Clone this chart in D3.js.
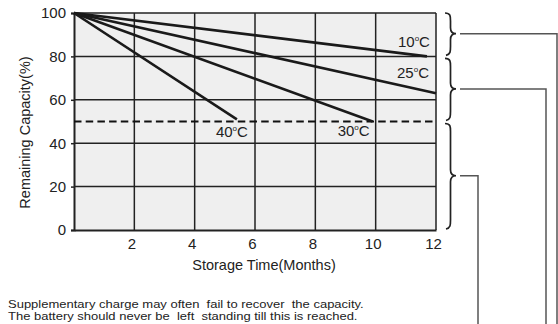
<!DOCTYPE html>
<html>
<head>
<meta charset="utf-8">
<script src="https://cdn.jsdelivr.net/npm/d3@7"></script>
<style>
  body { margin: 0; background: #fff; }
  svg { display: block; font-family: "Liberation Sans", Arial, sans-serif; }
</style>
</head>
<body>
<div id="chart"></div>
<script>
var width = 558;
var height = 324;

// data
var monthTicks = [2, 4, 6, 8, 10, 12];
var capTicks = [0, 20, 40, 60, 80, 100];
var temps = ["10", "25", "30", "40"];
var startMonth = [0, 0, 0, 0];
var startCap = [100, 100, 100, 100];
var endMonth = [11.7, 12, 9.9, 5.4];
var endCap = [80, 63, 50, 51];
var limitCap = 50;
var bands = [[100, 80], [80, 50], [50, 0]];
var notes = [
    "Supplementary charge may often  fail to recover  the capacity.",
    "The battery should never be  left  standing till this is reached."
];

var xScale = d3.scaleLinear().domain([0, 12]).range([74, 436]);
var yScale = d3.scaleLinear().domain([0, 100]).range([230, 13]);

var svg = d3.select("#chart")
    .append("svg")
    .attr("width", width)
    .attr("height", height);

// plot background
svg.append("rect")
    .attr("x", xScale(0))
    .attr("y", yScale(100))
    .attr("width", xScale(12) - xScale(0))
    .attr("height", yScale(0) - yScale(100))
    .attr("fill", "#efefef");

// grid
svg.append("g")
    .selectAll("line")
    .data(monthTicks)
    .enter()
    .append("line")
    .attr("x1", function(d) { return xScale(d); })
    .attr("x2", function(d) { return xScale(d); })
    .attr("y1", yScale(0))
    .attr("y2", yScale(100))
    .attr("stroke", "#222")
    .attr("stroke-width", 1.5);

svg.append("g")
    .selectAll("line")
    .data(capTicks.filter(function(d) { return d > 0; }))
    .enter()
    .append("line")
    .attr("x1", xScale(0))
    .attr("x2", xScale(12))
    .attr("y1", function(d) { return yScale(d); })
    .attr("y2", function(d) { return yScale(d); })
    .attr("stroke", "#222")
    .attr("stroke-width", 1.5);

// axes
var xAxis = d3.axisBottom(xScale).tickValues(monthTicks).tickSize(0).tickPadding(8);
var yAxis = d3.axisLeft(yScale).tickValues(capTicks).tickSize(3).tickPadding(5);

var gx = svg.append("g")
    .attr("transform", "translate(0," + yScale(0) + ")")
    .call(xAxis);
var gy = svg.append("g")
    .attr("transform", "translate(" + xScale(0) + ",0)")
    .call(yAxis);

[gx, gy].forEach(function(g) {
    g.select(".domain").attr("stroke", "#222").attr("stroke-width", 2);
    g.selectAll(".tick line").attr("stroke", "#222").attr("stroke-width", 1.5);
    g.selectAll(".tick text")
        .attr("fill", "#222")
        .style("font-size", "15px")
        .style("font-family", "Liberation Sans, Arial, sans-serif");
});
gx.selectAll(".tick text").attr("dx", -3);

// 50% limit line
svg.append("line")
    .attr("x1", xScale(0))
    .attr("x2", xScale(12))
    .attr("y1", yScale(limitCap))
    .attr("y2", yScale(limitCap))
    .attr("stroke", "#111")
    .attr("stroke-width", 2)
    .attr("stroke-dasharray", "7.5,4.2");

// capacity lines
var line = d3.line()
    .x(function(d) { return xScale(d[0]); })
    .y(function(d) { return yScale(d[1]); });

temps.forEach(function(t, i) {
    svg.append("path")
        .attr("d", line([[startMonth[i], startCap[i]], [endMonth[i], endCap[i]]]))
        .attr("fill", "none")
        .attr("stroke", "#1a1a1a")
        .attr("stroke-width", 2.6);
});

// temperature labels, offset from line ends
var labelDx = [3, -7, -3, 11];
var labelDy = [-9, -15, 14, 18];
temps.forEach(function(t, i) {
    var txt = svg.append("text")
        .attr("x", xScale(endMonth[i]) + labelDx[i])
        .attr("y", yScale(endCap[i]) + labelDy[i])
        .attr("text-anchor", "end")
        .attr("fill", "#222")
        .style("font-size", "15px");
    txt.append("tspan").text(t);
    txt.append("tspan").text("o").attr("dy", -6).style("font-size", "8px");
    txt.append("tspan").text("C").attr("dy", 6);
});

// axis titles
svg.append("text")
    .attr("x", (xScale(0) + xScale(12)) / 2 + 9)
    .attr("y", 270)
    .attr("text-anchor", "middle")
    .attr("fill", "#222")
    .style("font-size", "14.5px")
    .text("Storage Time(Months)");

svg.append("text")
    .attr("transform", "translate(30," + (yScale(50) + 11) + ") rotate(-90)")
    .attr("text-anchor", "middle")
    .attr("fill", "#222")
    .style("font-size", "14.5px")
    .text("Remaining Capacity(%)");

// braces on the right with connectors
var braceX0 = 445, braceXm = 450.5, braceXt = 456;
var connectorEnd = [557, 546, 478];

function bracePath(y0, y1) {
    var ym = (y0 + y1) / 2;
    return "M" + braceX0 + "," + y0 +
        " C" + braceXm + "," + y0 + " " + braceXm + "," + (y0 + 3) + " " + braceXm + "," + (y0 + 8) +
        " L" + braceXm + "," + (ym - 6) +
        " C" + braceXm + "," + (ym - 2) + " " + (braceXm + 2) + "," + ym + " " + braceXt + "," + ym +
        " C" + (braceXm + 2) + "," + ym + " " + braceXm + "," + (ym + 2) + " " + braceXm + "," + (ym + 6) +
        " L" + braceXm + "," + (y1 - 8) +
        " C" + braceXm + "," + (y1 - 3) + " " + braceXm + "," + y1 + " " + (braceX0 + 1) + "," + (y1 + 1);
}

bands.forEach(function(b, i) {
    var y0 = yScale(b[0]) + (i == 0 ? 0 : 2);
    var y1 = yScale(b[1]) - 2;
    var ym = (y0 + y1) / 2;
    svg.append("path")
        .attr("d", bracePath(y0, y1))
        .attr("fill", "none")
        .attr("stroke", "#222")
        .attr("stroke-width", 1.7);
    svg.append("path")
        .attr("d", "M" + (braceXt + 4) + "," + ym + " H" + connectorEnd[i] + " V" + height)
        .attr("fill", "none")
        .attr("stroke", "#555")
        .attr("stroke-width", 1.5);
});

// footnote (the original lettering is a bit stretched sideways)
svg.append("g")
    .attr("transform", "translate(8,0) scale(1.13,1)")
    .selectAll("text")
    .data(notes)
    .enter()
    .append("text")
    .attr("x", 0)
    .attr("y", function(d, i) { return 308 + i * 12.5; })
    .attr("fill", "#222")
    .style("font-size", "11.5px")
    .style("white-space", "pre")
    .text(function(d) { return d; });
</script>
</body>
</html>
